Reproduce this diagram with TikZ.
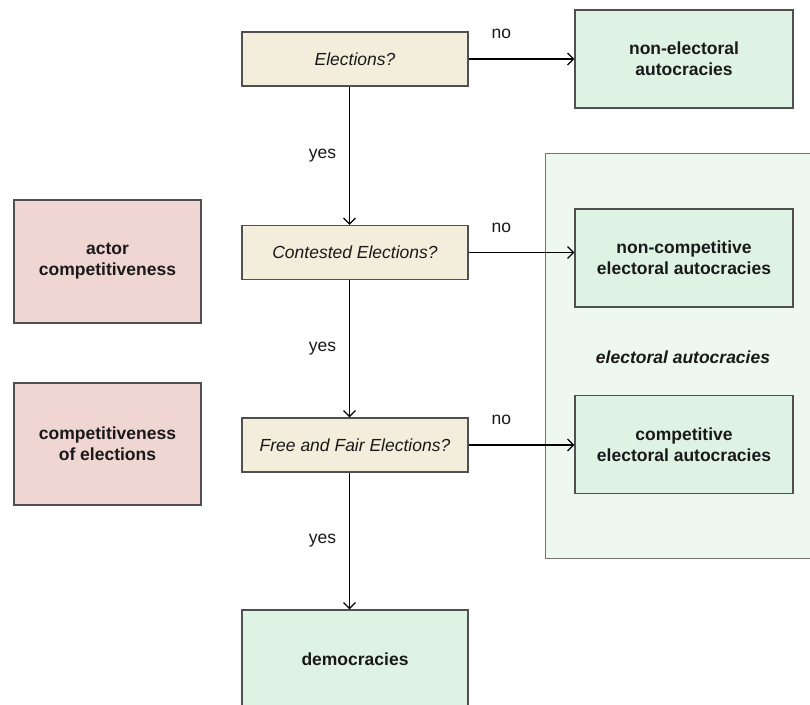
\documentclass[tikz,border=0pt]{standalone}
\usepackage{fontspec}
\setmainfont{Liberation Sans}
\usetikzlibrary{arrows.meta}

\definecolor{askfill}{HTML}{F3EDDB}
\definecolor{typefill}{HTML}{DFF3E4}
\definecolor{regionfill}{HTML}{EEF8F1}
\definecolor{dimfill}{HTML}{F0D6D2}
\definecolor{edgegray}{HTML}{505050}

\begin{document}
\begin{tikzpicture}[x=1pt,y=1pt]
        \tikzstyle{every node}+=[inner sep=0pt, align=center, text=black!90, font=\fontsize{17.5}{21}\selectfont]
        \tikzstyle{ask}=[draw=edgegray, fill=askfill, line width=1.2pt, minimum width=226pt, minimum height=54pt, font=\fontsize{17.5}{21}\selectfont\itshape]
        \tikzstyle{regime}=[draw=edgegray, fill=typefill, line width=1.2pt, minimum width=218pt, minimum height=98pt, font=\fontsize{17.5}{21}\selectfont\bfseries]
        \tikzstyle{dimension}=[draw=edgegray, fill=dimfill, line width=1.2pt, minimum width=187pt, minimum height=122pt, font=\fontsize{17.5}{21}\selectfont\bfseries]
        \tikzstyle{link}=[black, line width=1.2pt, -{Straight Barb[length=6pt,width=12pt]}]
        \useasboundingbox (0,0) rectangle (810,-704);
        % electoral autocracies region
        \draw [draw=edgegray!80, fill=regionfill, line width=1pt] (545,-153) rectangle (840,-558);
        \node [font=\fontsize{17.5}{21}\selectfont\bfseries\itshape] (region) at (683,-357) {electoral autocracies};
        % questions
        \node [ask] (elec) at (355,-59) {Elections?};
        \node [ask] (cont) at (355,-252.5) {Contested Elections?};
        \node [ask] (free) at (355,-445) {Free and Fair Elections?};
        % regime types
        \node [regime] (nonel) at (684,-59) {non-electoral\\autocracies};
        \node [regime] (noncomp) at (684,-258) {non-competitive\\electoral autocracies};
        \node [regime] (comp) at (684,-444.5) {competitive\\electoral autocracies};
        \node [regime, minimum width=226pt] (demo) at (355,-659) {democracies};
        % dimensions
        \node [dimension, minimum height=123pt] (actor) at (107.5,-261.5) {actor\\competitiveness};
        \node [dimension] (compel) at (107.5,-444) {competitiveness\\of elections};
        % no
        \draw [link] (elec.east) -- node [pos=0.31, yshift=25pt] {no} (nonel.west);
        \draw [link] (cont.east) -- node [pos=0.31, yshift=25pt] {no} (cont.east -| noncomp.west);
        \draw [link] (free.east) -- node [pos=0.31, yshift=25pt] {no} (free.east -| comp.west);
        % yes
        \draw [link] ([xshift=-5.5pt]elec.south) -- node [midway, xshift=-27pt] {yes} ([xshift=-5.5pt]cont.north);
        \draw [link] ([xshift=-5.5pt]cont.south) -- node [midway, xshift=-27pt] {yes} ([xshift=-5.5pt]free.north);
        \draw [link] ([xshift=-5.5pt]free.south) -- node [midway, xshift=-27pt] {yes} ([xshift=-5.5pt]demo.north);
\end{tikzpicture}
\end{document}
